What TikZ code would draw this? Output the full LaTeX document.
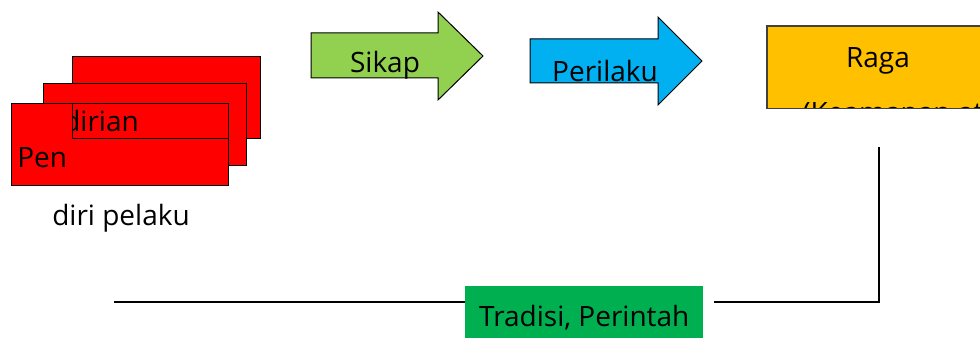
\documentclass[tikz,border=0pt]{standalone}
\usepackage{fontspec}
\setmainfont{Open Sans}
\definecolor{sikapgreen}{HTML}{92D050}
\definecolor{perilakublue}{HTML}{00B0F0}
\definecolor{ragaorange}{HTML}{FFC000}
\definecolor{tradgreen}{HTML}{00B050}
\def\pxu{0.75pt}

\begin{document}
\begin{tikzpicture}[x=0.75pt,y=-0.75pt,
	lbl/.style={font=\fontsize{21}{25}\selectfont, inner sep=0pt, anchor=base},
	redbox/.style={draw=black, fill=red, line width=0.75pt, anchor=north west, inner sep=0pt, minimum height=82*\pxu},
	shaft/.style={draw=black, line width=0.75pt},
	link/.style={draw=black, line width=1.3pt}]
	\clip (0,0) rectangle (980,338);
	\node[redbox, minimum width=188*\pxu] (penback) at (72,56) {};
	\node[redbox, minimum width=203*\pxu] (penmid) at (43,83) {};
	\node[redbox, minimum width=217*\pxu] (penfront) at (11,103) {};
	\node[redbox, minimum width=156*\pxu, minimum height=35*\pxu] (peninner) at (72,103) {};
	\begin{scope}
		\clip (72,103) rectangle (228,138);
		\node[lbl, anchor=base west] (dirian) at (63,132) {dirian};
	\end{scope}
	\node[lbl, anchor=base west] (pen) at (17,168) {Pen};
	\node[lbl] (pelaku) at (121,225) {diri pelaku};
	\draw[shaft, fill=sikapgreen] (311,33) -- (438,33) -- (438,12) -- (483,56) -- (438,100) -- (438,78) -- (311,78) -- cycle;
	\node[lbl] (sikap) at (385,73) {Sikap};
	\draw[shaft, fill=perilakublue] (530,39) -- (658,39) -- (658,17) -- (702,61) -- (658,105) -- (658,83) -- (530,83) -- cycle;
	\node[lbl] (perilaku) at (605,82) {Perilaku};
	\node[fill=ragaorange, anchor=north west, inner sep=0pt, minimum width=223*\pxu, minimum height=82*\pxu] (raga) at (767,26) {};
	\node[lbl] (ragatext) at (878,68) {Raga};
	\begin{scope}
		\clip (767,26) rectangle (990,108);
		\node[lbl, anchor=base west] (ragasub) at (802,123) {(Keamanan atasan)};
	\end{scope}
	\draw[draw=black!75, line width=0.9pt] (raga.north east) -- (raga.north west) -- (raga.south west) -- (raga.south east);
	\node[fill=tradgreen, anchor=north west, inner sep=0pt, minimum width=238*\pxu, minimum height=59*\pxu, text depth=0pt, font=\fontsize{21}{25}\selectfont] (trad) at (465,286) {Tradisi, Perintah};
	\coordinate (ragadrop) at (879,147);
	\coordinate (bend) at (879,302);
	\coordinate (tradright) at (714,302);
	\coordinate (leftend) at (114,302);
	\draw[link] (ragadrop) -- (bend) -- (tradright);
	\draw[link] (trad.west |- bend) -- (leftend);
\end{tikzpicture}
\end{document}
